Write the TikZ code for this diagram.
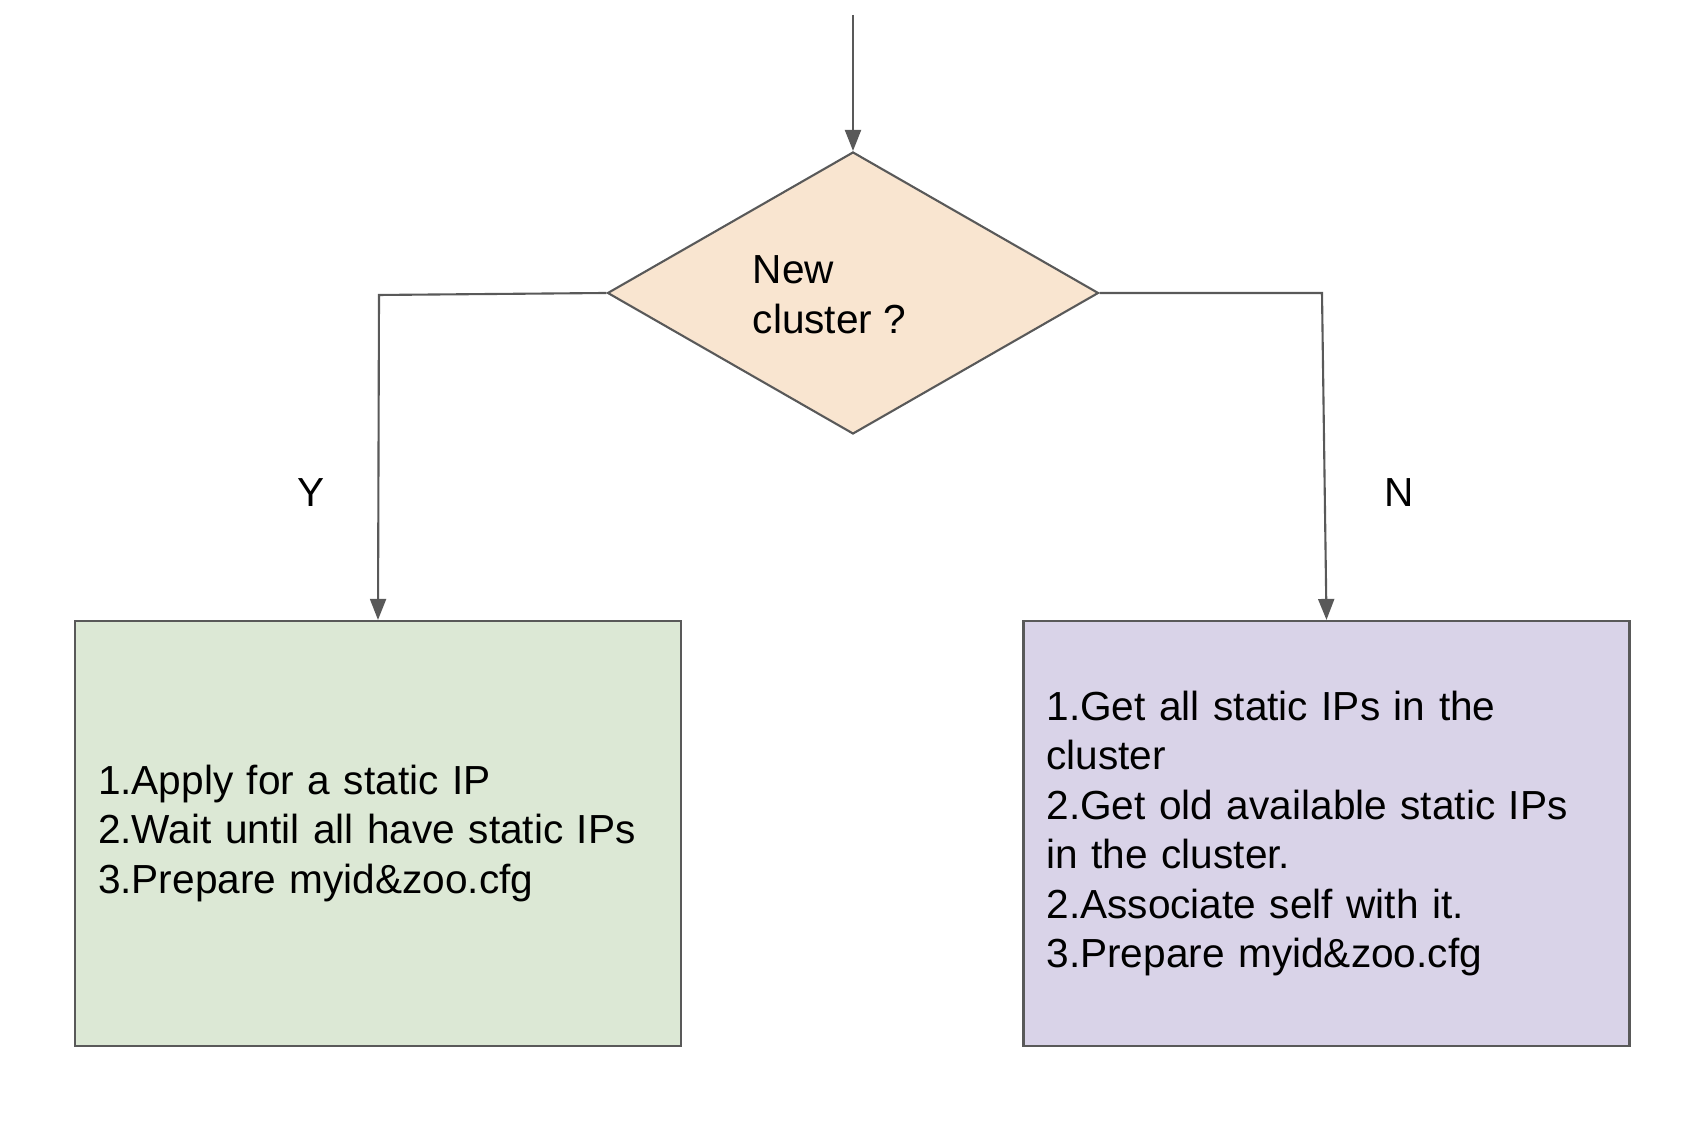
\documentclass[tikz,border=0pt]{standalone}
\usepackage{fontspec}
\setmainfont{Liberation Sans}
\usetikzlibrary{shapes.geometric,arrows.meta}
\definecolor{linegray}{HTML}{595959}
\definecolor{decfill}{HTML}{F9E5D0}
\definecolor{yesfill}{HTML}{DCE8D5}
\definecolor{nofill}{HTML}{D9D3E8}
\begin{document}
\begin{tikzpicture}[
    font=\fontsize{11.55}{14.1}\selectfont,
    line/.style={draw=linegray,line width=0.6pt},
    flow/.style={line,-{Triangle[length=0.21cm,width=0.16cm]}},
    stepbox/.style={line,rectangle,minimum width=6.06cm,minimum height=4.25cm,
        text width=5.6cm,inner xsep=0.23cm,align=left}
]
    \path[use as bounding box] (0,0) rectangle (17.06,11.32);
    % decision
    \node[line,diamond,fill=decfill,minimum width=4.91cm,minimum height=2.82cm,
        inner sep=0pt] (dec) at (8.53,8.39) {};
    \node[anchor=west,inner sep=0pt,align=left] (dectext) at (7.52,8.37) {New\\cluster ?};
    \coordinate (start) at (8.53,11.17);
    \draw[flow] (start) -- (dec.north);
    % the two branches
    \node[stepbox,fill=yesfill] (yesbox) at (3.78,2.985)
        {1.Apply for a static IP\\2.Wait until all have static IPs\\3.Prepare myid\&zoo.cfg};
    \node[stepbox,fill=nofill,inner xsep=0.22cm] (nobox) at (13.265,2.985)
        {1.Get all static IPs in the\\cluster\\2.Get old available static IPs\\in the cluster.\\2.Associate self with it.\\3.Prepare myid\&zoo.cfg};
    \coordinate (ycorner) at (3.79,8.37);
    \coordinate (ncorner) at (13.22,8.39);
    \draw[flow] (dec.west) -- (ycorner) -- (yesbox.north);
    \draw[flow] (dec.east) -- (ncorner) -- (nobox.north);
    \node (ylabel) at (3.11,6.39) {Y};
    \node (nlabel) at (13.99,6.39) {N};
\end{tikzpicture}
\end{document}
